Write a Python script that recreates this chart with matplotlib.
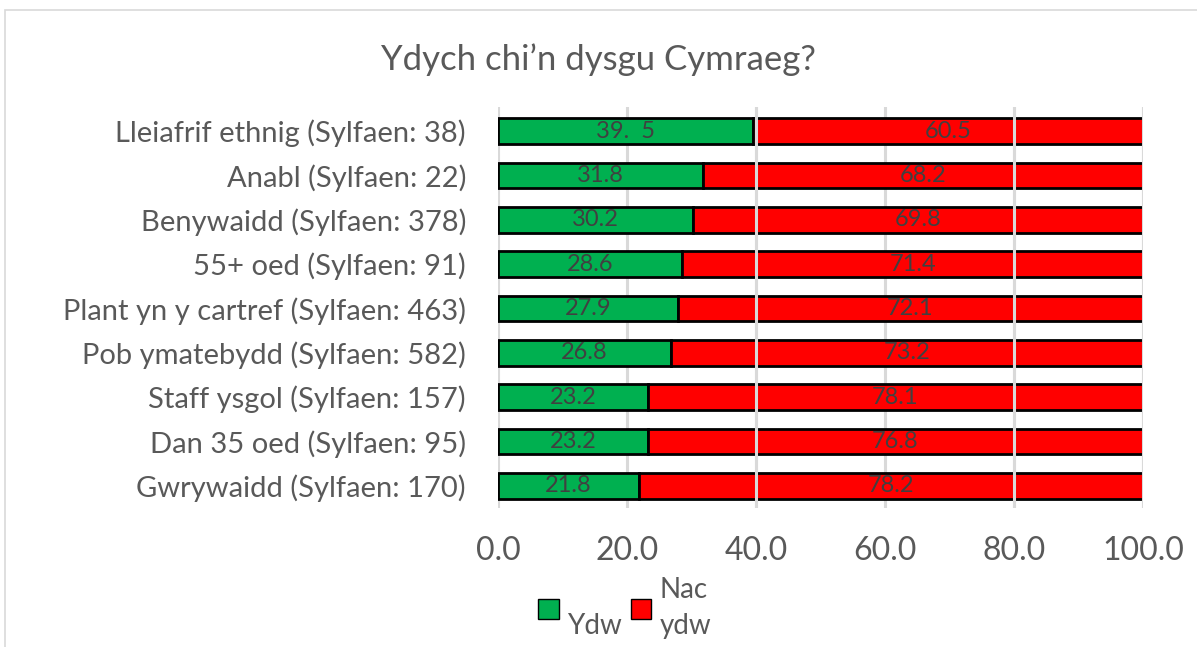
import matplotlib
matplotlib.use("Agg")
import matplotlib.pyplot as plt
from matplotlib.patches import Rectangle, Patch

plt.rcParams['font.family'] = ['Lato', 'DejaVu Sans']

categories = [
    "Lleiafrif ethnig (Sylfaen: 38)",
    "Anabl (Sylfaen: 22)",
    "Benywaidd (Sylfaen: 378)",
    "55+ oed (Sylfaen: 91)",
    "Plant yn y cartref (Sylfaen: 463)",
    "Pob ymatebydd (Sylfaen: 582)",
    "Staff ysgol (Sylfaen: 157)",
    "Dan 35 oed (Sylfaen: 95)",
    "Gwrywaidd (Sylfaen: 170)",
]
ydw = [39.5, 31.8, 30.2, 28.6, 27.9, 26.8, 23.2, 23.2, 21.8]
nac_ydw = [60.5, 68.2, 69.8, 71.4, 72.1, 73.2, 78.1, 76.8, 78.2]
ydw_labels = ["39.  5", "31.8", "30.2", "28.6", "27.9", "26.8", "23.2", "23.2", "21.8"]
nac_labels = ["60.5", "68.2", "69.8", "71.4", "72.1", "73.2", "78.1", "76.8", "78.2"]
xticks = [0, 20, 40, 60, 80, 100]
over_bar_grid = [40, 80, 100]
series_names = ["\nYdw", "Nac\nydw"]

GREEN = "#00b050"
RED = "#ff0000"
TXT = "#595959"
GRID = "#d9d9d9"

fig = plt.figure(figsize=(11.97, 6.47), dpi=100)
ax = fig.add_axes([0.416, 0.215, 0.539, 0.62])

n = len(categories)
ypos = list(range(n - 1, -1, -1))
h = 0.58

b1 = ax.barh(ypos, ydw, height=h, color=GREEN, edgecolor="black", linewidth=2, zorder=2)
b2 = ax.barh(ypos, nac_ydw, left=ydw, height=h, color=RED, edgecolor="black", linewidth=2, zorder=2)
ax.bar_label(b1, labels=ydw_labels, label_type="center", color="#404040", fontsize=17, zorder=5)
ax.bar_label(b2, labels=nac_labels, label_type="center", color="#404040", fontsize=17, zorder=5)

ax.set_xlim(0, 100)
ax.set_ylim(-0.5, n - 0.45)
ax.set_xticks(xticks)
ax.set_xticklabels([f"{t:.1f}" for t in xticks])
ax.set_yticks(ypos)
ax.set_yticklabels(categories)
ax.tick_params(axis="y", length=0, pad=23, labelsize=21, labelcolor=TXT)
ax.tick_params(axis="x", length=0, pad=20, labelsize=23, labelcolor=TXT)
for s in ax.spines.values():
    s.set_visible(False)
ax.grid(axis="x", color=GRID, linewidth=2.2)
ax.set_axisbelow(True)
for xv in over_bar_grid:
    ax.axvline(xv, color=GRID, linewidth=2.2, zorder=3)

fig.text(0.5, 0.908, "Ydych chi\u2019n dysgu Cymraeg?", ha="center", va="center",
         fontsize=25, color=TXT)

handles = [Patch(facecolor=GREEN, edgecolor="black", linewidth=1),
           Patch(facecolor=RED, edgecolor="black", linewidth=1)]
leg = fig.legend(handles, series_names, loc="center", bbox_to_anchor=(0.522, 0.06),
                 ncol=2, frameon=False, fontsize=20, labelcolor=TXT,
                 handlelength=0.75, handleheight=0.75, handletextpad=0.3, columnspacing=0.3)
for t in leg.get_texts():
    t.set_linespacing(1.45)

fig.patches.append(Rectangle((0.004, -0.1), 1.2, 1.1 - 10 / 647, transform=fig.transFigure,
                             fill=False, edgecolor=GRID, linewidth=1.2))

fig.savefig("out.png", dpi=100)
